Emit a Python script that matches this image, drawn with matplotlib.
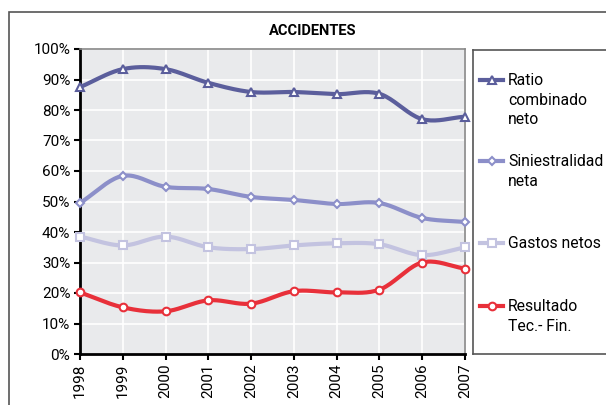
import numpy as np
import matplotlib
matplotlib.use("Agg")
import matplotlib.pyplot as plt
from matplotlib.patches import Rectangle
from matplotlib.lines import Line2D

years = [1998, 1999, 2000, 2001, 2002, 2003, 2004, 2005, 2006, 2007]
ratio = [87.5, 93.4, 93.4, 88.9, 85.9, 85.9, 85.2, 85.3, 77.0, 77.8]
siniestralidad = [49.5, 58.4, 54.8, 54.1, 51.5, 50.5, 49.2, 49.5, 44.6, 43.3]
gastos = [38.5, 35.6, 38.5, 35.0, 34.4, 35.6, 36.3, 36.0, 32.4, 35.0]
resultado = [20.2, 15.3, 14.0, 17.6, 16.5, 20.6, 20.2, 21.1, 30.0, 28.0]
labels = ["Ratio\ncombinado\nneto", "Siniestralidad\nneta", "Gastos netos", "Resultado\nTec.- Fin."]

colors = ["#5b5e9c", "#8c8fc9", "#c3c3e0", "#e8303a"]
markers = ["^", "D", "s", "o"]
msizes = [6, 4.5, 6, 5.5]
series = [ratio, siniestralidad, gastos, resultado]

plt.rcParams['font.family'] = ['Roboto', 'DejaVu Sans']

def catmull(x, y, n=20):
    x = np.asarray(x, float); y = np.asarray(y, float)
    px = np.concatenate([[2*x[0]-x[1]], x, [2*x[-1]-x[-2]]])
    py = np.concatenate([[2*y[0]-y[1]], y, [2*y[-1]-y[-2]]])
    xs, ys = [], []
    t = np.linspace(0, 1, n, endpoint=False)
    for i in range(1, len(px)-2):
        for P, out in ((px, xs), (py, ys)):
            p0, p1, p2, p3 = P[i-1], P[i], P[i+1], P[i+2]
            out.extend(0.5*((2*p1) + (-p0+p2)*t + (2*p0-5*p1+4*p2-p3)*t**2 + (-p0+3*p1-3*p2+p3)*t**3))
    xs.append(x[-1]); ys.append(y[-1])
    return np.array(xs), np.array(ys)

W, H = 606, 405
fig = plt.figure(figsize=(W/100, H/100), dpi=100)

# outer frame
fig.patches.append(Rectangle((9/W, -0.1), 1.0, (H-12)/H + 0.1, transform=fig.transFigure,
                             fill=False, edgecolor="#555555", linewidth=1.2))

fig.text(313/W, 1-31/H, "ACCIDENTES", ha="center", va="center", fontsize=10.5, fontweight="bold")

ax = fig.add_axes([80/W, 1-354/H, (465-80)/W, (354-49)/H])
ax.set_facecolor("#e9eaec")
ax.set_xlim(1998, 2007)
ax.set_ylim(0, 100)
ax.set_yticks(range(0, 101, 10))
ax.set_yticklabels([f"{v}%" for v in range(0, 101, 10)], fontsize=11)
ax.set_xticks(years)
ax.set_xticklabels([str(y) for y in years], rotation=90, fontsize=11)
ax.grid(True, color="white", linewidth=1.2)
ax.set_axisbelow(True)
for s in ["top", "right"]:
    ax.spines[s].set_color("#888888")
    ax.spines[s].set_linewidth(1.2)
for s in ["left", "bottom"]:
    ax.spines[s].set_color("black")
    ax.spines[s].set_linewidth(2)
ax.tick_params(length=4, width=1.5, color="black", pad=3)

for ys, c, m, ms in zip(series, colors, markers, msizes):
    sx, sy = catmull(years, ys)
    ax.plot(sx, sy, color=c, linewidth=3, solid_capstyle="round", clip_on=False, zorder=3)
    ax.plot(years, ys, linestyle="none", marker=m, markersize=ms, markerfacecolor="white",
            markeredgecolor=c, markeredgewidth=1.5, clip_on=False, zorder=4)

# legend box
lax = fig.add_axes([473/W, 1-354/H, (W-473+10)/W, (354-50)/H])
lax.set_xlim(473, W+10)
lax.set_ylim(354, 50)
lax.set_xticks([]); lax.set_yticks([])
for s in lax.spines.values():
    s.set_color("#555555"); s.set_linewidth(1.2)
leg_y = [80, 161, 243, 306]
for yv, lab, c, m, ms in zip(leg_y, labels, colors, markers, msizes):
    lax.add_line(Line2D([480, 503], [yv, yv], color=c, linewidth=3))
    lax.plot([491.5], [yv], marker=m, markersize=ms, markerfacecolor="white",
             markeredgecolor=c, markeredgewidth=1.5)
    lax.text(508, yv - 7, lab, ha="left", va="top", fontsize=11.3, linespacing=1.38)

fig.savefig("out.png", dpi=100)
